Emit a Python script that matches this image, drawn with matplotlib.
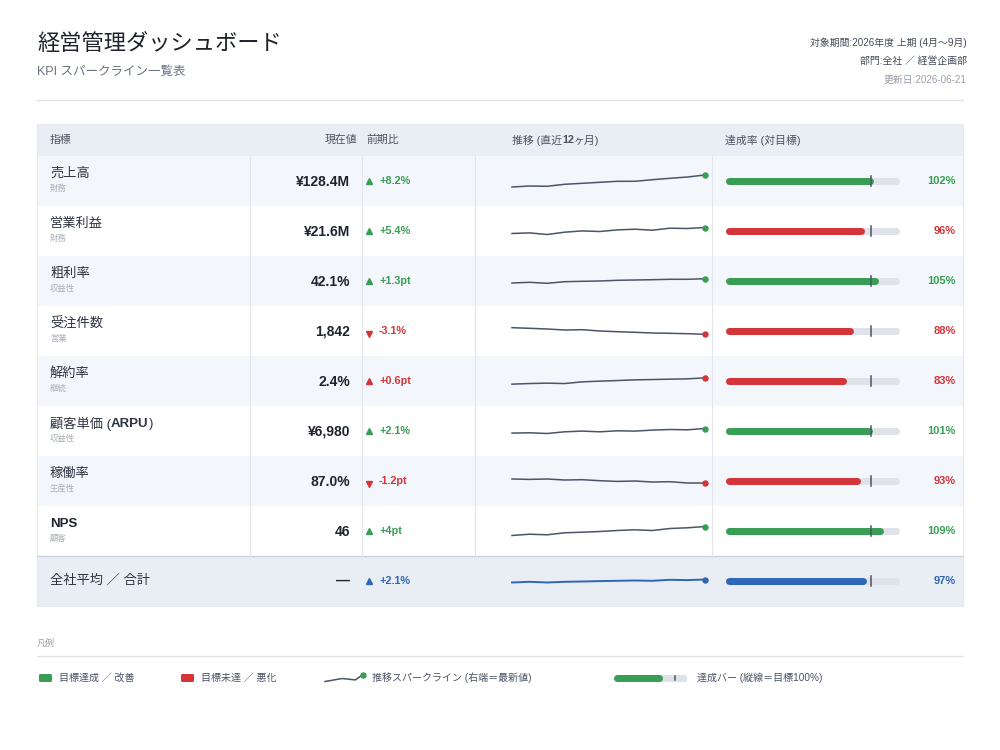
import matplotlib
matplotlib.use("Agg")
import matplotlib.pyplot as plt
from matplotlib.patches import Rectangle, FancyBboxPatch

plt.rcParams["font.family"] = ["Liberation Sans", "Noto Sans CJK JP", "DejaVu Sans"]

# ---- data ----
kpi_names = ["売上高", "営業利益", "粗利率", "受注件数", "解約率", "顧客単価(ARPU)", "稼働率", "NPS"]
kpi_groups = ["財務", "財務", "収益性", "営業", "継続", "収益性", "生産性", "顧客"]
current_values = ["¥128.4M", "¥21.6M", "42.1%", "1,842", "2.4%", "¥6,980", "87.0%", "46"]
change_labels = ["+8.2%", "+5.4%", "+1.3pt", "-3.1%", "+0.6pt", "+2.1%", "-1.2pt", "+4pt"]
change_up = [True, True, True, False, True, True, False, True]
change_good = [True, True, True, False, False, True, False, True]
achievement = [102, 96, 105, 88, 83, 101, 93, 109]

# sparkline: index (latest = 100), last 12 months
spark_series = [
    [88.0, 89.0, 88.7, 90.7, 91.7, 92.7, 93.7, 93.7, 95.3, 96.7, 98.0, 100.0],
    [94.0, 94.6, 93.0, 95.3, 96.6, 96.0, 97.6, 98.3, 97.3, 99.3, 99.0, 100.0],
    [95.7, 96.4, 95.4, 97.0, 97.4, 97.7, 98.4, 98.7, 99.0, 99.4, 99.4, 100.0],
    [106.6, 106.0, 105.3, 104.3, 104.6, 103.3, 102.6, 102.0, 101.3, 101.0, 100.6, 100.0],
    [93.7, 94.3, 94.7, 94.3, 96.0, 96.7, 97.3, 98.0, 98.3, 98.7, 99.0, 100.0],
    [95.4, 95.7, 95.0, 96.7, 97.4, 96.7, 97.7, 97.4, 98.4, 99.0, 98.7, 100.0],
    [104.0, 103.6, 104.0, 103.0, 103.3, 102.3, 101.6, 102.0, 101.0, 101.3, 100.0, 100.0],
    [91.0, 92.3, 91.7, 93.7, 94.3, 95.0, 96.0, 96.7, 96.0, 98.0, 98.7, 100.0],
]

total_label = "全社平均 ／ 合計"
total_value = "—"
total_change = "+2.1%"
total_achievement = 97
total_spark = [97.0, 97.7, 97.0, 97.7, 98.0, 98.4, 98.7, 99.0, 98.7, 99.7, 99.4, 100.0]

legend_spark = [0.0, 3.0, 1.6, 7.0]
legend_bar_value = 80
bar_max = 120

# ---- colours ----
GREEN = "#3a9d55"
RED = "#d33539"
BLUE = "#2f66b5"
SLATE = "#4b5567"
TRACK = "#dfe2e8"
HEAD_BG = "#e9eef5"
ALT_BG = "#f3f6fa"
GRID = "#e2e6ec"

W, H = 1000, 750
fig = plt.figure(figsize=(10, 7.5), dpi=100)
ax = fig.add_axes([0, 0, 1, 1])
ax.set_xlim(0, W)
ax.set_ylim(H, 0)
ax.axis("off")


def sub_axes(x0, y0, x1, y1):
    a = fig.add_axes([x0 / W, 1 - y1 / H, (x1 - x0) / W, (y1 - y0) / H])
    a.axis("off")
    a.patch.set_alpha(0)
    return a


def text_runs(x, y, runs, **kw):
    r = fig.canvas.get_renderer()
    for s, wt in runs:
        t = ax.text(x, y, s, fontweight=wt, ha="left", va="center", **kw)
        x += t.get_window_extent(renderer=r).width


# ---- header ----
ax.text(37, 44, "経営管理ダッシュボード", fontsize=16, color="#1e232b", va="center")
ax.text(37, 72, "KPI スパークライン一覧表", fontsize=9, color="#6b7280", va="center")
ax.text(967, 43, "対象期間:2026年度 上期 (4月〜9月)", fontsize=7.1, color="#444b57",
        ha="right", va="center")
ax.text(967, 61, "部門:全社 ／ 経営企画部", fontsize=7.1, color="#444b57", ha="right", va="center")
ax.text(966, 80, "更新日:2026-06-21", fontsize=7.1, color="#9aa0a8", ha="right", va="center")
ax.plot([37, 963], [100, 100], color="#e2e2e2", lw=1)

# ---- table ----
TOP, HEAD_H, ROW_H = 124, 32, 50
LEFT, RIGHT = 37, 963
n = len(kpi_names)
ax.add_patch(Rectangle((LEFT, TOP), RIGHT - LEFT, HEAD_H, color=HEAD_BG, lw=0))
hy = TOP + HEAD_H / 2
hkw = dict(fontsize=7.8, color="#4a5262", va="center")
ax.text(50, hy, "指標", **hkw)
ax.text(357, hy, "現在値", ha="right", **hkw)
ax.text(366, hy, "前期比", **hkw)
text_runs(512, hy, [("推移 (直近", "normal"), ("12", "bold"), ("ヶ月)", "normal")],
          fontsize=7.8, color="#4a5262")
ax.text(725, hy, "達成率 (対目標)", **hkw)

row_tops = [TOP + HEAD_H + i * ROW_H for i in range(n + 1)]
for i in range(n):
    bg = ALT_BG if i % 2 == 0 else "white"
    ax.add_patch(Rectangle((LEFT, row_tops[i]), RIGHT - LEFT, ROW_H, color=bg, lw=0))
tot_top = row_tops[n]
ax.add_patch(Rectangle((LEFT, tot_top), RIGHT - LEFT, ROW_H, color=HEAD_BG, lw=0))
ax.plot([LEFT, RIGHT], [tot_top, tot_top], color="#c9d3e0", lw=1)
for cx in [250, 362, 475, 712]:
    ax.plot([cx, cx], [row_tops[0], tot_top], color=GRID, lw=0.8)
ax.add_patch(Rectangle((LEFT, TOP), RIGHT - LEFT, tot_top + ROW_H - TOP, fill=False,
                       edgecolor="#e6e9ee", lw=0.8))

cap = 3.5 * bar_max / 175  # half line width in data units


def draw_bar(a, value, color):
    a.set_xlim(0, bar_max)
    a.set_ylim(-1, 1)
    a.plot([cap, bar_max - cap], [0, 0], color=TRACK, lw=5.04, solid_capstyle="round")
    a.plot([cap, value - cap], [0, 0], color=color, lw=5.04, solid_capstyle="round")
    a.plot([100, 100], [-0.2, 0.2], color=SLATE, lw=1.1)


def draw_spark(a, vals, line_color, dot_color, lw=1.1):
    mid = (min(vals) + max(vals)) / 2
    a.set_xlim(0, len(vals) - 1)
    a.set_ylim(mid - 25, mid + 25)
    a.plot(range(len(vals)), vals, color=line_color, lw=lw, clip_on=False)
    a.plot(len(vals) - 1, vals[-1], "o", color=dot_color, ms=3.6, clip_on=False)


for i in range(n):
    t = row_tops[i]
    cy = t + ROW_H / 2
    name = kpi_names[i]
    if name == "NPS":
        ax.text(50, t + 18, name, fontsize=9.5, fontweight="bold", color="#1f2430", va="center")
    elif "ARPU" in name:
        text_runs(50, t + 18, [("顧客単価 (", "normal"), ("ARPU", "bold"), (")", "normal")],
                  fontsize=9.5, color="#2d3340")
    else:
        ax.text(50, t + 18, name, fontsize=9.5, color="#2d3340", va="center")
    ax.text(50, t + 33, kpi_groups[i], fontsize=6, color="#aab0b8", va="center")
    ax.text(350, cy + 0.5, current_values[i], fontsize=10, fontweight="bold", color="#1f2430",
            ha="right", va="center")
    ccol = GREEN if change_good[i] else RED
    if change_up[i]:
        ax.plot(369, cy, marker="^", ms=4, color=ccol, ls="none")
    else:
        ax.plot(369, cy + 3, marker="v", ms=4, color=ccol, ls="none")
    ax.text(379, cy, change_labels[i], fontsize=7.8, fontweight="bold", color=ccol, va="center")

    sa = sub_axes(512, t, 705, t + ROW_H)
    draw_spark(sa, spark_series[i], SLATE, ccol)

    bcol = GREEN if achievement[i] >= 100 else RED
    ba = sub_axes(725, t, 900, t + ROW_H)
    draw_bar(ba, achievement[i], bcol)
    ax.text(956, cy, f"{achievement[i]}%", fontsize=8, fontweight="bold", color=bcol,
            ha="right", va="center")

# total row
cy = tot_top + ROW_H / 2
ax.text(50, cy, total_label, fontsize=9.5, color="#2d3340", va="center")
ax.text(350, cy, total_value, fontsize=10, fontweight="bold", color="#1f2430", ha="right", va="center")
ax.plot(369, cy, marker="^", ms=4, color=BLUE, ls="none")
ax.text(379, cy, total_change, fontsize=7.8, fontweight="bold", color=BLUE, va="center")
sa = sub_axes(512, tot_top, 705, tot_top + ROW_H)
draw_spark(sa, total_spark, BLUE, BLUE, lw=1.4)
ba = sub_axes(725, tot_top, 900, tot_top + ROW_H)
draw_bar(ba, total_achievement, BLUE)
ax.text(956, cy, f"{total_achievement}%", fontsize=8, fontweight="bold", color=BLUE,
        ha="right", va="center")

# ---- legend ----
ax.text(37, 643, "凡例", fontsize=6.5, color="#9aa0a8", va="center")
ax.plot([37, 963], [656, 656], color="#e4e4e4", lw=1)
ly = 678
lkw = dict(fontsize=7.2, color="#4a5262", va="center")
ax.add_patch(FancyBboxPatch((39, ly - 4), 13, 8, boxstyle="round,pad=0,rounding_size=1.5",
                            color=GREEN, lw=0))
ax.text(59, ly, "目標達成 ／ 改善", **lkw)
ax.add_patch(FancyBboxPatch((181, ly - 4), 13, 8, boxstyle="round,pad=0,rounding_size=1.5",
                            color=RED, lw=0))
ax.text(201, ly, "目標未達 ／ 悪化", **lkw)
la = sub_axes(325, ly - 10, 363, ly + 10)
la.set_xlim(0, len(legend_spark) - 1)
la.set_ylim(-6.5, 13.5)
la.plot([0, 1.36, 2.4, 3], legend_spark, color=SLATE, lw=1.1, clip_on=False)
la.plot(3, legend_spark[-1], "o", color=GREEN, ms=3.6, clip_on=False)
ax.text(372, ly, "推移スパークライン (右端＝最新値)", **lkw)
lb = sub_axes(613, ly - 10, 687, ly + 10)
cap = 3.5 * bar_max / 74
draw_bar(lb, legend_bar_value, GREEN)
ax.text(697, ly, "達成バー (縦線＝目標100%)", **lkw)

fig.savefig("out.png", dpi=100)
